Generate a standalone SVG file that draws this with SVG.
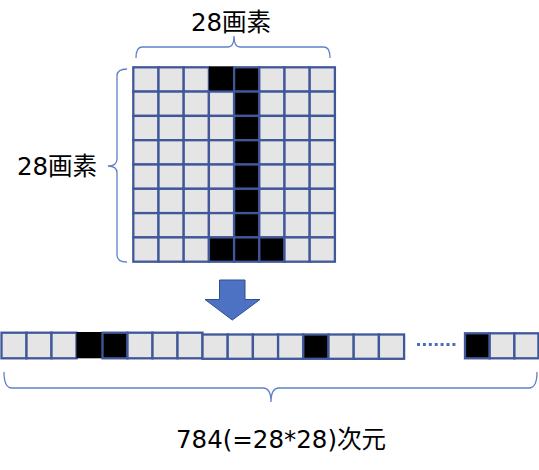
<svg xmlns="http://www.w3.org/2000/svg" width="539" height="470" viewBox="0 0 539 470">
<style>
.c{fill:#e5e5e5;stroke:#40579a;stroke-width:2.3}
.k{fill:#000;stroke:#40579a;stroke-width:2.3}
.b{fill:none;stroke:#5f80c8;stroke-width:1.3}
.t{font-family:"DejaVu Sans","Noto Sans CJK JP",sans-serif;font-size:24.5px;fill:#000;text-anchor:middle}
</style>
<rect width="539" height="470" fill="#fff"/>
<g id="label-top"><text class="t" x="231" y="31">28画素</text></g>
<g id="label-left"><text class="t" x="57" y="175">28画素</text></g>
<g id="label-bottom"><text class="t" x="281" y="448">784(=28*28)次元</text></g>
<g id="connectors">
<path id="brace-top" class="b" d="M136,58 Q136,47 142,47 L228,47 Q234,47 234,36 Q234,47 240,47 L324,47 Q330,47 330,58"/>
<path id="brace-left" class="b" d="M127,69 Q117,69 117,76 L117,159 Q117,166 108,166 Q117,166 117,173 L117,255 Q117,262 127,262"/>
<path id="brace-bottom" class="b" d="M4,372 Q4,388 12,388 L263,388 Q271,388 271,402 Q271,388 279,388 L529,388 Q537,388 537,372"/>
</g>
<g id="arrow"><polygon points="219.5,280 245,280 245,299.5 260,299.5 232.3,320 205,299.5 219.5,299.5" fill="#4d72c4" stroke="#2f4f8f" stroke-width="1"/></g>
<g id="grid">
<g id="row0">
<rect class="c" x="133.3" y="67.3" width="25.2" height="24.3"/>
<rect class="c" x="158.5" y="67.3" width="25.2" height="24.3"/>
<rect class="c" x="183.7" y="67.3" width="25.2" height="24.3"/>
<rect x="208.9" y="66.3" width="25.2" height="25.3" fill="#000"/>
<rect class="k" x="234.1" y="67.3" width="25.2" height="24.3"/>
<rect class="c" x="259.3" y="67.3" width="25.2" height="24.3"/>
<rect class="c" x="284.5" y="67.3" width="25.2" height="24.3"/>
<rect class="c" x="309.7" y="67.3" width="25.2" height="24.3"/>
</g>
<g id="row1">
<rect class="c" x="133.3" y="91.6" width="25.2" height="24.3"/>
<rect class="c" x="158.5" y="91.6" width="25.2" height="24.3"/>
<rect class="c" x="183.7" y="91.6" width="25.2" height="24.3"/>
<rect class="c" x="208.9" y="91.6" width="25.2" height="24.3"/>
<rect class="k" x="234.1" y="91.6" width="25.2" height="24.3"/>
<rect class="c" x="259.3" y="91.6" width="25.2" height="24.3"/>
<rect class="c" x="284.5" y="91.6" width="25.2" height="24.3"/>
<rect class="c" x="309.7" y="91.6" width="25.2" height="24.3"/>
</g>
<g id="row2">
<rect class="c" x="133.3" y="115.9" width="25.2" height="24.3"/>
<rect class="c" x="158.5" y="115.9" width="25.2" height="24.3"/>
<rect class="c" x="183.7" y="115.9" width="25.2" height="24.3"/>
<rect class="c" x="208.9" y="115.9" width="25.2" height="24.3"/>
<rect class="k" x="234.1" y="115.9" width="25.2" height="24.3"/>
<rect class="c" x="259.3" y="115.9" width="25.2" height="24.3"/>
<rect class="c" x="284.5" y="115.9" width="25.2" height="24.3"/>
<rect class="c" x="309.7" y="115.9" width="25.2" height="24.3"/>
</g>
<g id="row3">
<rect class="c" x="133.3" y="140.2" width="25.2" height="24.3"/>
<rect class="c" x="158.5" y="140.2" width="25.2" height="24.3"/>
<rect class="c" x="183.7" y="140.2" width="25.2" height="24.3"/>
<rect class="c" x="208.9" y="140.2" width="25.2" height="24.3"/>
<rect class="k" x="234.1" y="140.2" width="25.2" height="24.3"/>
<rect class="c" x="259.3" y="140.2" width="25.2" height="24.3"/>
<rect class="c" x="284.5" y="140.2" width="25.2" height="24.3"/>
<rect class="c" x="309.7" y="140.2" width="25.2" height="24.3"/>
</g>
<g id="row4">
<rect class="c" x="133.3" y="164.5" width="25.2" height="24.3"/>
<rect class="c" x="158.5" y="164.5" width="25.2" height="24.3"/>
<rect class="c" x="183.7" y="164.5" width="25.2" height="24.3"/>
<rect class="c" x="208.9" y="164.5" width="25.2" height="24.3"/>
<rect class="k" x="234.1" y="164.5" width="25.2" height="24.3"/>
<rect class="c" x="259.3" y="164.5" width="25.2" height="24.3"/>
<rect class="c" x="284.5" y="164.5" width="25.2" height="24.3"/>
<rect class="c" x="309.7" y="164.5" width="25.2" height="24.3"/>
</g>
<g id="row5">
<rect class="c" x="133.3" y="188.8" width="25.2" height="24.3"/>
<rect class="c" x="158.5" y="188.8" width="25.2" height="24.3"/>
<rect class="c" x="183.7" y="188.8" width="25.2" height="24.3"/>
<rect class="c" x="208.9" y="188.8" width="25.2" height="24.3"/>
<rect class="k" x="234.1" y="188.8" width="25.2" height="24.3"/>
<rect class="c" x="259.3" y="188.8" width="25.2" height="24.3"/>
<rect class="c" x="284.5" y="188.8" width="25.2" height="24.3"/>
<rect class="c" x="309.7" y="188.8" width="25.2" height="24.3"/>
</g>
<g id="row6">
<rect class="c" x="133.3" y="213.1" width="25.2" height="24.3"/>
<rect class="c" x="158.5" y="213.1" width="25.2" height="24.3"/>
<rect class="c" x="183.7" y="213.1" width="25.2" height="24.3"/>
<rect class="c" x="208.9" y="213.1" width="25.2" height="24.3"/>
<rect class="k" x="234.1" y="213.1" width="25.2" height="24.3"/>
<rect class="c" x="259.3" y="213.1" width="25.2" height="24.3"/>
<rect class="c" x="284.5" y="213.1" width="25.2" height="24.3"/>
<rect class="c" x="309.7" y="213.1" width="25.2" height="24.3"/>
</g>
<g id="row7">
<rect class="c" x="133.3" y="237.4" width="25.2" height="24.3"/>
<rect class="c" x="158.5" y="237.4" width="25.2" height="24.3"/>
<rect class="c" x="183.7" y="237.4" width="25.2" height="24.3"/>
<rect class="k" x="208.9" y="237.4" width="25.2" height="24.3"/>
<rect class="k" x="234.1" y="237.4" width="25.2" height="24.3"/>
<rect class="k" x="259.3" y="237.4" width="25.2" height="24.3"/>
<rect class="c" x="284.5" y="237.4" width="25.2" height="24.3"/>
<rect class="c" x="309.7" y="237.4" width="25.2" height="24.3"/>
</g>
</g>
<g id="vector">
<g id="seg1">
<rect class="c" x="1.5" y="332.7" width="25" height="25.6"/>
<rect class="c" x="26.5" y="332.7" width="25" height="25.6"/>
<rect class="c" x="51.5" y="332.7" width="25" height="25.6"/>
<rect x="76.5" y="332" width="26" height="26.3" fill="#000"/>
<rect class="k" x="102.5" y="332.7" width="25" height="25.6"/>
<rect class="c" x="127.5" y="332.7" width="25" height="25.6"/>
<rect class="c" x="152.5" y="332.7" width="25" height="25.6"/>
<rect class="c" x="177.5" y="332.7" width="25" height="25.6"/>
</g>
<g id="seg2">
<rect class="c" x="202.5" y="334.5" width="25.2" height="24.3"/>
<rect class="c" x="227.7" y="334.5" width="25.2" height="24.3"/>
<rect class="c" x="252.9" y="334.5" width="25.2" height="24.3"/>
<rect class="c" x="278.1" y="334.5" width="25.2" height="24.3"/>
<rect class="k" x="303.3" y="334.5" width="25.2" height="24.3"/>
<rect class="c" x="328.5" y="334.5" width="25.2" height="24.3"/>
<rect class="c" x="353.7" y="334.5" width="25.2" height="24.3"/>
<rect class="c" x="378.9" y="334.5" width="25.2" height="24.3"/>
</g>
<line id="dots" x1="417" y1="344.5" x2="458" y2="344.5" stroke="#4a6fc0" stroke-width="3" stroke-dasharray="3,2.9"/>
<g id="seg3">
<rect class="k" x="465" y="333.3" width="24.7" height="25"/>
<rect class="c" x="489.7" y="333.3" width="24.7" height="25"/>
<rect class="c" x="514.4" y="333.3" width="24" height="25"/>
</g>
</g>
</svg>
